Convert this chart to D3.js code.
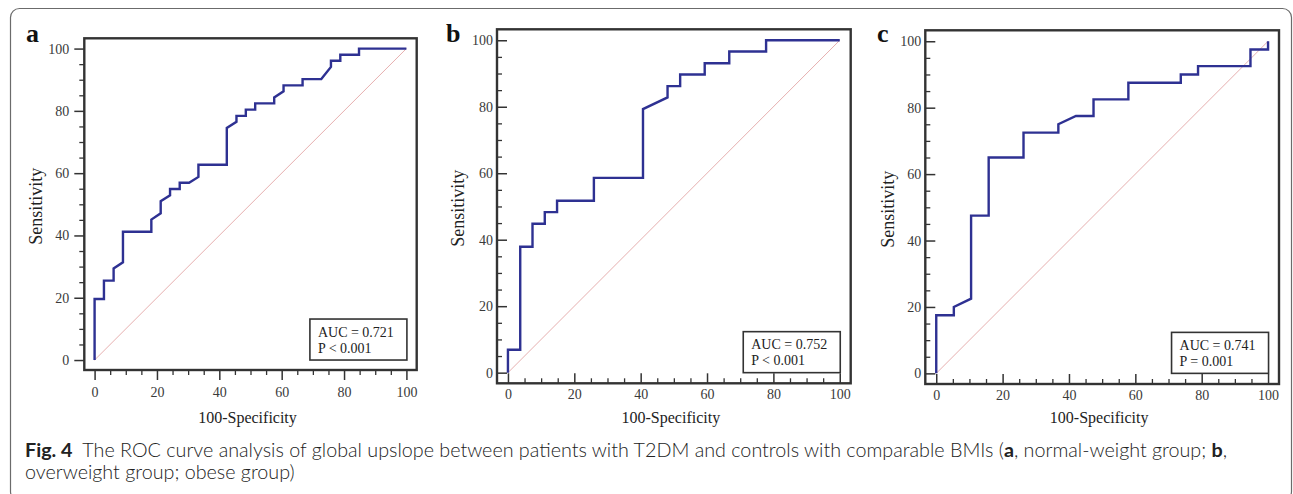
<!DOCTYPE html>
<html>
<head>
<meta charset="utf-8">
<script src="https://cdn.jsdelivr.net/npm/d3@7"></script>
<style>
  html, body { margin: 0; padding: 0; background: #fff; }
  svg { display: block; }
</style>
</head>
<body>
<div id="chart"></div>
<script>
// ROC curves, three groups (a/b/c)

const panelNames = ["a", "b", "c"];

// panel a: normal-weight group
const fprA = [0, 0, 3.0, 3.0, 6.1, 6.1, 9.1, 9.1, 18.2, 18.2, 21.2, 21.2, 24.2, 24.2, 27.3, 27.3, 30.3, 33.3, 33.3, 42.4, 42.4, 45.5, 45.5, 48.5, 48.5, 51.5, 51.5, 57.6, 57.6, 60.6, 60.6, 66.7, 66.7, 72.7, 75.8, 75.8, 78.8, 78.8, 84.8, 84.8, 100];
const tprA = [0, 19.6, 19.6, 25.5, 25.5, 29.4, 31.4, 41.2, 41.2, 45.1, 47.1, 51.0, 52.9, 54.9, 54.9, 56.9, 56.9, 58.8, 62.7, 62.7, 74.5, 76.5, 78.4, 78.4, 80.4, 80.4, 82.4, 82.4, 84.3, 86.3, 88.2, 88.2, 90.2, 90.2, 94.1, 96.1, 96.1, 98.0, 98.0, 100, 100];

// panel b: overweight group
const fprB = [0, 0, 3.7, 3.7, 7.4, 7.4, 11.1, 11.1, 14.8, 14.8, 25.9, 25.9, 40.7, 40.7, 48.1, 48.1, 51.9, 51.9, 59.3, 59.3, 66.7, 66.7, 77.8, 77.8, 100];
const tprB = [0, 6.9, 6.9, 37.9, 37.9, 44.8, 44.8, 48.3, 48.3, 51.7, 51.7, 58.6, 58.6, 79.3, 82.8, 86.2, 86.2, 89.7, 89.7, 93.1, 93.1, 96.6, 96.6, 100, 100];

// panel c: obese group
const fprC = [0, 0, 5.3, 5.3, 10.5, 10.5, 15.8, 15.8, 26.3, 26.3, 36.8, 36.8, 42.1, 47.4, 47.4, 57.9, 57.9, 73.7, 73.7, 78.9, 78.9, 94.7, 94.7, 100, 100];
const tprC = [0, 17.5, 17.5, 20.0, 22.5, 47.5, 47.5, 65.0, 65.0, 72.5, 72.5, 75.0, 77.5, 77.5, 82.5, 82.5, 87.5, 87.5, 90.0, 90.0, 92.5, 92.5, 97.5, 97.5, 100];

const aucTexts = ["AUC = 0.721", "AUC = 0.752", "AUC = 0.741"];
const pTexts = ["P < 0.001", "P < 0.001", "P = 0.001"];

const majorTicks = [0, 20, 40, 60, 80, 100];
const minorTicks = [5, 10, 15, 25, 30, 35, 45, 50, 55, 65, 70, 75, 85, 90, 95];

const xTitle = "100-Specificity";
const yTitle = "Sensitivity";

const captionLine1 = [
  { t: "Fig. 4", b: true },
  { t: "\u2002The ROC curve analysis of global upslope between patients with T2DM and controls with comparable BMIs (", b: false },
  { t: "a", b: true },
  { t: ", normal-weight group; ", b: false },
  { t: "b", b: true },
  { t: ",", b: false }
];
const captionLine2 = "overweight group; obese group)";

const series = [
  { fpr: fprA, tpr: tprA },
  { fpr: fprB, tpr: tprB },
  { fpr: fprC, tpr: tprC }
];

// frame box of each panel in pixels; panel a has outward ticks, b and c inward
const frames = [
  { l: 84.3, t: 38.3, r: 416.7, b: 370, titleX: 41.5, labelX: 26, inward: false, yPad: 5, xPad: 7 },
  { l: 497, t: 29.3, r: 850.7, b: 383.3, titleX: 463.5, labelX: 446, inward: true, yPad: 4, xPad: 6 },
  { l: 925.3, t: 30.3, r: 1279, b: 384, titleX: 894, labelX: 877, inward: true, yPad: 4, xPad: 6 }
];

const W = 1293, H = 494;
const serif = "'Liberation Serif', 'Times New Roman', serif";
const inkCol = "#333";
const curveCol = "#2e3192";
const diagCol = "#e3a6a6";

const svg = d3.select("#chart").append("svg")
  .attr("width", W)
  .attr("height", H);

// outer rounded frame of the figure
svg.append("rect")
  .attr("x", 10.5).attr("y", 8.5)
  .attr("width", 1281).attr("height", 492)
  .attr("rx", 9).attr("ry", 9)
  .attr("fill", "none")
  .attr("stroke", "#6b6b6b")
  .attr("stroke-width", 1.2);

series.forEach((s, i) => {
  const f = frames[i];
  const g = svg.append("g");
  const dir = f.inward ? -1 : 1;

  const x = d3.scaleLinear().domain([-3.3, 103.3]).range([f.l, f.r]);
  const y = d3.scaleLinear().domain([-3.2, 103.3]).range([f.b, f.t]);

  // minor ticks
  g.append("g")
    .attr("transform", `translate(${f.l},0)`)
    .call(d3.axisLeft(y).tickValues(minorTicks).tickSize(5 * dir).tickFormat(() => ""))
    .call(a => a.select(".domain").remove())
    .selectAll("line").attr("stroke", inkCol).attr("stroke-width", 1.3);

  g.append("g")
    .attr("transform", `translate(0,${f.b})`)
    .call(d3.axisBottom(x).tickValues(minorTicks).tickSize(5 * dir).tickFormat(() => ""))
    .call(a => a.select(".domain").remove())
    .selectAll("line").attr("stroke", inkCol).attr("stroke-width", 1.3);

  // major ticks + labels
  const yAx = g.append("g")
    .attr("transform", `translate(${f.l},0)`)
    .call(d3.axisLeft(y).tickValues(majorTicks).tickSize(10 * dir).tickPadding(f.yPad))
    .call(a => a.select(".domain").remove());
  yAx.selectAll("line").attr("stroke", inkCol).attr("stroke-width", 1.5);
  yAx.selectAll("text")
    .attr("fill", "#3a3a3a")
    .style("font-family", serif)
    .style("font-size", "14px");

  const xAx = g.append("g")
    .attr("transform", `translate(0,${f.b})`)
    .call(d3.axisBottom(x).tickValues(majorTicks).tickSize(10 * dir).tickPadding(f.xPad))
    .call(a => a.select(".domain").remove());
  xAx.selectAll("line").attr("stroke", inkCol).attr("stroke-width", 1.5);
  xAx.selectAll("text")
    .attr("fill", "#3a3a3a")
    .style("font-family", serif)
    .style("font-size", "14px");

  // reference diagonal
  g.append("line")
    .attr("x1", x(0)).attr("y1", y(0))
    .attr("x2", x(100)).attr("y2", y(100))
    .attr("stroke", diagCol)
    .attr("stroke-width", 0.9);

  // ROC curve
  const pts = s.fpr.map((v, k) => [v, s.tpr[k]]);
  g.append("path")
    .datum(pts)
    .attr("fill", "none")
    .attr("stroke", curveCol)
    .attr("stroke-width", 2.4)
    .attr("stroke-linejoin", "miter")
    .attr("d", d3.line().x(d => x(d[0])).y(d => y(d[1])));

  // plot frame
  g.append("rect")
    .attr("x", f.l).attr("y", f.t)
    .attr("width", f.r - f.l).attr("height", f.b - f.t)
    .attr("fill", "none")
    .attr("stroke", inkCol)
    .attr("stroke-width", 2.4);

  // AUC box, anchored at the lower-right corner (100, 0)
  const bw = 97, bh = 41;
  const bx = x(100) + 0.5 - bw, by = y(0) - bh;
  g.append("rect")
    .attr("x", bx).attr("y", by)
    .attr("width", bw).attr("height", bh)
    .attr("fill", "#fff")
    .attr("stroke", inkCol)
    .attr("stroke-width", 1.6);
  g.append("text")
    .attr("x", bx + 8).attr("y", by + 17.5)
    .attr("fill", "#222")
    .style("font-family", serif).style("font-size", "14px")
    .text(aucTexts[i]);
  g.append("text")
    .attr("x", bx + 8).attr("y", by + 33.5)
    .attr("fill", "#222")
    .style("font-family", serif).style("font-size", "14px")
    .text(pTexts[i]);

  // axis titles
  g.append("text")
    .attr("transform", `translate(${f.titleX},${(f.t + f.b) / 2 + 2}) rotate(-90)`)
    .attr("text-anchor", "middle")
    .attr("fill", "#222")
    .style("font-family", serif).style("font-size", "18px")
    .text(yTitle);

  g.append("text")
    .attr("x", (f.l + f.r) / 2 - 3)
    .attr("y", 423)
    .attr("text-anchor", "middle")
    .attr("fill", "#222")
    .style("font-family", serif).style("font-size", "16px")
    .text(xTitle);

  // panel letter
  g.append("text")
    .attr("x", f.labelX).attr("y", 42)
    .attr("fill", "#111")
    .style("font-family", serif).style("font-size", "26px")
    .style("font-weight", "bold")
    .text(panelNames[i]);
});

// caption
const capFont = "Lato, 'Open Sans', sans-serif";
const cap1 = svg.append("text")
  .attr("x", 25).attr("y", 457)
  .attr("fill", "#222")
  .style("font-family", capFont)
  .style("font-weight", 300)
  .style("font-size", "18px");
cap1.selectAll("tspan")
  .data(captionLine1)
  .join("tspan")
  .style("font-weight", d => d.b ? "bold" : 300)
  .text(d => d.t);

// fit first caption line to its width in the figure
const targetW = 1203;
const natW = cap1.node().getComputedTextLength();
const capSize = 18 * targetW / natW;
cap1.style("font-size", capSize + "px");

svg.append("text")
  .attr("x", 25).attr("y", 479)
  .attr("fill", "#222")
  .style("font-family", capFont)
  .style("font-weight", 300)
  .style("font-size", capSize + "px")
  .text(captionLine2);
</script>
</body>
</html>
